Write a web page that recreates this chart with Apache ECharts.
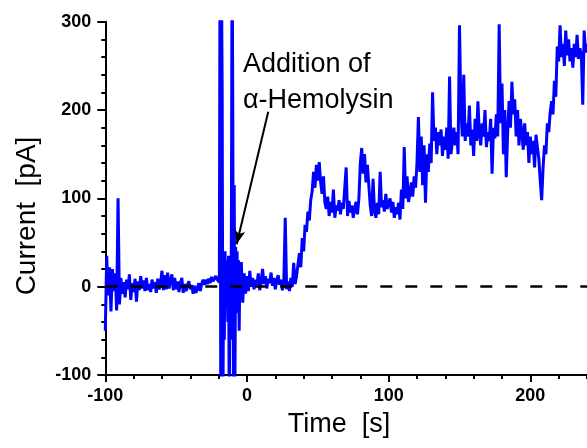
<!DOCTYPE html>
<html><head><meta charset="utf-8">
<script src="https://cdn.jsdelivr.net/npm/echarts@6/dist/echarts.min.js"></script>
<style>html,body{margin:0;padding:0;background:#fff}#c{width:587px;height:448px}</style>
</head><body><div id="c"></div>
<script>
// Baseline before addition: t = -100 .. -21 s, 1 s step
const preStart = -100, preStep = 1;
const preValues = [
  -50, 35, -10, 22, -28, 20, -5, 15, -27, 100,
  -20, 10, -8, 5, -12, 8, -3, 14, -15, 4,
  -6, 9, -17, 6, -4, 12, -2, 7, -5, 10,
  -4, 3, -6, 8, -2, 5, -7, 9, -3, 4,
  18, -4, 13, -3, 16, -2, 7, 14, -4, 10,
  -3, 6, -6, 4, 10, -7, 3, -5, 2, 6,
  -3, 2, -8, 1, -7, -2, 4, -5, 3, 8,
  2, 8, 3, 9, 4, 11, 6, 7, 12, 8
];
// Injection artefact: t = -20 .. -5 s, 0.5 s step
const injStart = -20, injStep = 0.5;
const injValues = [
  10, 5, 400, -150, 350, 225, -150, 20, -60, 40,
  -20, 30, 5, -40, 35, -150, 20, -60, 60, 400,
  190, -150, 115, -110, 45, -30, 40, -25, 30, -50, 20
];
// After addition: t = -4 .. 240 s, 1 s step
const postStart = -4, postStep = 1;
const postValues = [
  28, -18, 15, -8, 12, -5, 18, 0, 10, -3,
  8, 2, 15, -4, 6, 20, 3, 12, -2, 9,
  4, 16, 1, 10, -3, 7, 13, 2, 8, -4,
  5, 78, -3, 6, -5, 10, 0, 27, 3, 12,
  10, 38, 22, 55, 40, 70, 62, 85, 75, 98,
  108, 130, 112, 138, 120, 141, 118, 105, 125, 95,
  88, 102, 80, 96, 84, 110, 78, 92, 86, 98,
  82, 95, 88, 88, 135, 80, 97, 84, 92, 78,
  88, 96, 82, 100, 140, 157, 128, 150, 118, 138,
  115, 92, 80, 122, 86, 78, 95, 82, 130, 90,
  98, 85, 105, 88, 94, 100, 84, 96, 78, 90,
  82, 95, 76, 110, 88, 158, 100, 125, 96, 105,
  118, 102, 125, 112, 140, 192, 130, 170, 115, 160,
  95, 150, 130, 162, 140, 220, 165, 180, 150, 175,
  160, 178, 148, 170, 155, 180, 145, 238, 150, 165,
  180, 160, 175, 150, 296, 200, 170, 240, 165, 185,
  170, 205, 160, 178, 148, 190, 165, 210, 172, 160,
  185, 170, 200, 158, 175, 165, 190, 128, 180, 168,
  195, 170, 297, 185, 230, 150, 200, 124, 175, 210,
  180, 232, 195, 212, 170, 200, 160, 190, 175, 155,
  185, 160, 175, 140, 170, 150, 165, 135, 172, 158,
  145, 120, 98, 135, 160, 150, 185, 175, 197, 210,
  195, 233, 215, 272, 255, 296, 260, 275, 250, 290,
  262, 280, 255, 270, 248, 275, 260, 285, 258, 270,
  262, 206, 290, 265, 275
];
const xTicks = [-100, 0, 100, 200];
const yTicks = [-100, 0, 100, 200, 300];
const arrowFrom = [15, 198];
const arrowTo = [-7.3, 48];
const annotationLines = ['Addition of', 'α-Hemolysin'];

function segment(start, step, vals) { return vals.map((v, i) => [start + i * step, v]); }
const data = [].concat(segment(preStart, preStep, preValues), segment(injStart, injStep, injValues), segment(postStart, postStep, postValues));

const FF = '"Liberation Sans", Arial, sans-serif';
const chart = echarts.init(document.getElementById('c'), null, {renderer: 'canvas'});
chart.setOption({
  animation: false,
  backgroundColor: '#fff',
  grid: {left: 105.3, top: 21.7, right: 0, bottom: 73},
  xAxis: [
    {type: 'value', position: 'bottom', min: xTicks[0], max: 240, interval: 20,
     axisLine: {show: true, onZero: false, lineStyle: {color: '#000', width: 2}},
     axisTick: {show: true, length: 4, lineStyle: {color: '#000', width: 2}},
     axisLabel: {show: false}, splitLine: {show: false}},
    {type: 'value', position: 'bottom', min: xTicks[0], max: 240, interval: 100,
     axisLine: {show: false, onZero: false},
     axisTick: {show: true, length: 7, lineStyle: {color: '#000', width: 2}},
     axisLabel: {show: true, showMaxLabel: false, margin: 12, color: '#000', fontFamily: FF, fontWeight: 'bold', fontSize: 18},
     splitLine: {show: false}}
  ],
  yAxis: {type: 'value', min: yTicks[0], max: yTicks[yTicks.length - 1], interval: 100,
    axisLine: {show: true, onZero: false, lineStyle: {color: '#000', width: 2}},
    axisTick: {show: true, length: 8, lineStyle: {color: '#000', width: 2}},
    minorTick: {show: true, splitNumber: 5, length: 4, lineStyle: {color: '#000', width: 2}},
    axisLabel: {margin: 14, color: '#000', fontFamily: FF, fontWeight: 'bold', fontSize: 18},
    splitLine: {show: false}, minorSplitLine: {show: false}},
  series: [{
    type: 'line', data: data, xAxisIndex: 0, showSymbol: false, symbol: 'none', clip: true,
    lineStyle: {color: '#0000ff', width: 3}, sampling: null,
    markLine: {
      silent: true, symbol: 'none', label: {show: false}, animation: false,
      data: [
        {yAxis: 0, lineStyle: {color: '#000', width: 2.5, type: [12, 13]}},
        [{coord: arrowFrom, symbol: 'none'}, {coord: arrowTo, symbol: 'arrow', symbolSize: [8, 14], lineStyle: {color: '#000', width: 2, type: 'solid'}}]
      ]
    }
  }],
  graphic: [
    {type: 'text', x: 339, y: 425, style: {text: 'Time  [s]', font: '27px ' + FF, fill: '#000', textAlign: 'center', textVerticalAlign: 'middle'}},
    {type: 'text', x: 27, y: 216, rotation: Math.PI / 2, style: {text: 'Current  [pA]', font: '28px ' + FF, fill: '#000', textAlign: 'center', textVerticalAlign: 'middle'}},
    {type: 'text', x: 243, y: 65, style: {text: annotationLines[0], font: '27px ' + FF, fill: '#000', textAlign: 'left', textVerticalAlign: 'middle'}},
    {type: 'text', x: 243, y: 101, style: {text: annotationLines[1], font: '27px ' + FF, fill: '#000', textAlign: 'left', textVerticalAlign: 'middle'}}
  ]
});
</script></body></html>
